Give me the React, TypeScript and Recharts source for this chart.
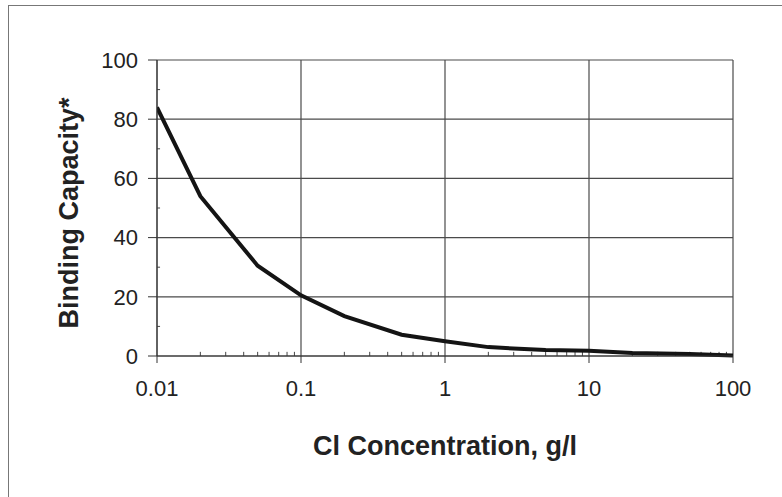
import React from "react";
import { LineChart, Line, XAxis, YAxis, CartesianGrid, ReferenceLine } from "recharts";

const concentration = [0.01, 0.02, 0.05, 0.1, 0.2, 0.5, 1, 2, 5, 10, 20, 50, 100];
const bindingCapacity = [84, 54, 30.5, 20.5, 13.5, 7.2, 5, 3, 2, 1.8, 1, 0.7, 0.2];
const xTicks = [0.01, 0.1, 1, 10, 100];
const yTicks = [0, 20, 40, 60, 80, 100];
const xMinorTicks = [
  0.02, 0.03, 0.04, 0.05, 0.06, 0.07, 0.08, 0.09,
  0.2, 0.3, 0.4, 0.5, 0.6, 0.7, 0.8, 0.9,
  2, 3, 4, 5, 6, 7, 8, 9,
  20, 30, 40, 50, 60, 70, 80, 90,
];
const yMinorTicks = [10, 30, 50, 70, 90];

const data = concentration.map((c, i) => ({ c, v: bindingCapacity[i] }));

const FONT = "'Liberation Sans', Arial, sans-serif";

export default function App() {
  return (
    <div style={{ position: "absolute", left: 0, top: 0, width: 782, height: 497, background: "#fff", fontFamily: FONT }}>
      <div
        style={{
          position: "absolute",
          left: 8,
          top: 5,
          width: 774,
          height: 492,
          borderLeft: "1.5px solid #777",
          borderTop: "1.5px solid #777",
        }}
      />
      <div style={{ position: "absolute", left: 0, top: 0 }}>
        <LineChart width={782} height={497} data={data} margin={{ top: 60, right: 49, bottom: 101, left: 0 }}>
          <CartesianGrid stroke="#4a4a4a" strokeWidth={1.2} />
          <XAxis
            dataKey="c"
            type="number"
            scale="log"
            domain={[0.01, 100]}
            ticks={xTicks}
            allowDataOverflow
            height={40}
            tickSize={7}
            tickMargin={17}
            stroke="#333"
            tick={{ fontSize: 22, fill: "#222", fontFamily: FONT }}
            tickFormatter={(v: number) => String(v)}
          />
          <YAxis
            type="number"
            domain={[0, 100]}
            ticks={yTicks}
            width={157}
            tickSize={9}
            tickMargin={10}
            stroke="#333"
            tick={{ fontSize: 22, fill: "#222", fontFamily: FONT }}
          />
          {xMinorTicks.map((m) => (
            <ReferenceLine
              key={"xm" + m}
              segment={[{ x: m, y: 0 }, { x: m, y: 1.4 }]}
              stroke="#444"
              strokeWidth={1}
            />
          ))}
          {yMinorTicks.map((m) => (
            <ReferenceLine
              key={"ym" + m}
              segment={[{ x: 0.01, y: m }, { x: 0.0105, y: m }]}
              stroke="#444"
              strokeWidth={1}
            />
          ))}
          <Line
            type="linear"
            dataKey="v"
            stroke="#141414"
            strokeWidth={4}
            dot={false}
            isAnimationActive={false}
          />
        </LineChart>
      </div>
      <svg width={782} height={497} style={{ position: "absolute", left: 0, top: 0, pointerEvents: "none" }}>
        <text
          x={445}
          y={455}
          textAnchor="middle"
          fontFamily={FONT}
          fontWeight="bold"
          fontSize={27}
          fill="#222"
        >
          Cl Concentration, g/l
        </text>
        <text
          x={78}
          y={213}
          transform="rotate(-90, 78, 213)"
          textAnchor="middle"
          fontFamily={FONT}
          fontWeight="bold"
          fontSize={27}
          fill="#222"
        >
          Binding Capacity*
        </text>
      </svg>
    </div>
  );
}
